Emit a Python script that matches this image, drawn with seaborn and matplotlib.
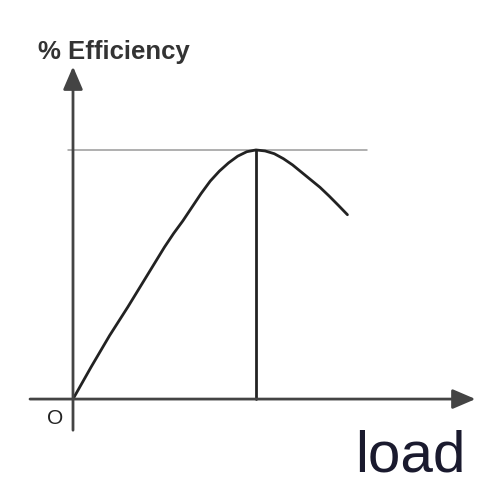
import numpy as np
import pandas as pd
from matplotlib import pyplot as plt
import seaborn as sns
sns.set_style('white')
plt.rcParams['font.family'] = ['Liberation Sans', 'DejaVu Sans']

# efficiency curve (load in per-unit of the peak point)
load = [0.0, 0.1, 0.2, 0.3, 0.4, 0.5, 0.55, 0.6, 0.65, 0.7, 0.75, 0.8,
        0.85, 0.9, 0.95, 1.0, 1.05, 1.1, 1.15, 1.2, 1.25, 1.3, 1.35,
        1.4, 1.45, 1.5]
efficiency = [0, 13, 25.5, 37, 49, 61, 66.5, 71.5, 77, 82.5, 87.5, 91.5,
              94.8, 97.5, 99.3, 100, 99.6, 98.5, 96.5, 94, 91, 88, 85,
              81.5, 77.8, 74]
peak_load = 1.0
peak_eff = 100

df = pd.DataFrame({'load': load, 'efficiency': efficiency})

fig = plt.figure(figsize=(4.81, 4.86), dpi=100)
ax = fig.add_axes([0, 0, 1, 1])

# guide lines to the peak
ax.plot([-0.027, 1.607], [peak_eff, peak_eff], color='#9a9a9a', lw=1.1, zorder=1)
ax.plot([peak_load, peak_load], [0, peak_eff], color='#222222', lw=2, zorder=2)

sns.lineplot(data=df, x='load', y='efficiency', ax=ax, color='#222222',
             lw=2, sort=False, zorder=3)

# axes drawn as arrows
arrow = dict(arrowstyle='-|>,head_length=0.7,head_width=0.3', mutation_scale=20,
             lw=2, color='#444444', shrinkA=0, shrinkB=0)
ax.annotate('', xy=(0, 133.5), xytext=(0, -12.5), arrowprops=arrow)
ax.annotate('', xy=(2.2, 0), xytext=(-0.235, 0), arrowprops=arrow)

ax.text(-0.191, 139.4, '% Efficiency', fontsize=18.5, fontweight='bold',
        color='#333333', va='center', ha='left')
ax.text(-0.098, -8.0, 'O', fontsize=15, color='#222222', va='center', ha='center')
ax.text(1.54, -23, 'load', fontsize=42, color='#1a1a2e', va='center', ha='left')

ax.set_xlim(-0.399, 2.23)
ax.set_ylim(-34.9, 160.2)
ax.axis('off')
ax.set(xlabel='', ylabel='')

fig.savefig('out.png', dpi=100)
